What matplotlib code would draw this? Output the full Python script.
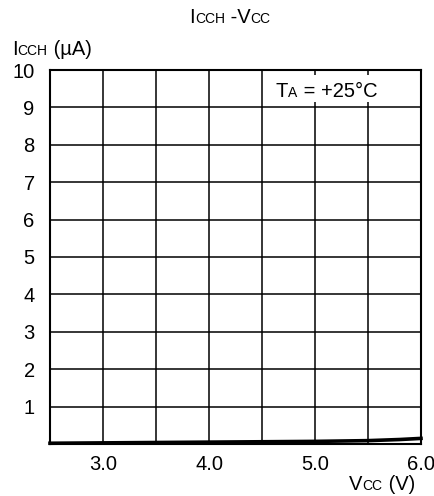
import matplotlib.pyplot as plt
from matplotlib.transforms import IdentityTransform

plt.rcParams["font.family"] = ["Liberation Sans", "DejaVu Sans"]

# supply current vs supply voltage, TA = +25C
vcc = [2.5, 3.0, 3.5, 4.0, 4.5, 5.0, 5.5, 5.8, 6.0]
icch = [0.02, 0.03, 0.04, 0.05, 0.06, 0.07, 0.09, 0.12, 0.15]

x_ticks = [3.0, 4.0, 5.0, 6.0]
x_grid = [2.5, 3.0, 3.5, 4.0, 4.5, 5.0, 5.5, 6.0]
y_ticks = [1, 2, 3, 4, 5, 6, 7, 8, 9, 10]

BIG = 14.5
SMALL = 10


def rich_text(fig, x, y, parts, ha="left"):
    """Draw text pieces of different sizes side by side on a common baseline.
    x, y are in figure pixels."""
    renderer = fig.canvas.get_renderer()
    pieces = []
    for s, size in parts:
        t = fig.text(0, 0, s, fontsize=size, transform=IdentityTransform(),
                     va="baseline", ha="left", zorder=5)
        w = t.get_window_extent(renderer).width
        pieces.append((t, w))
    total = sum(w for _, w in pieces)
    if ha == "center":
        x -= total / 2
    elif ha == "right":
        x -= total
    for t, w in pieces:
        t.set_position((x, y))
        x += w


def plot_icch():
    fig = plt.figure(figsize=(4.34, 4.96), dpi=100)
    H = 496
    ax = fig.add_axes([50 / 434, 1 - 444 / H, 371 / 434, 374 / H])
    ax.set_xlim(2.5, 6.0)
    ax.set_ylim(0, 10)

    for xv in x_grid:
        ax.axvline(xv, color="black", lw=1.1, zorder=1)
    for yv in y_ticks:
        ax.axhline(yv, color="black", lw=1.1, zorder=1)

    ax.plot(vcc, icch, color="black", lw=2.6, zorder=3, clip_on=False)

    for sp in ax.spines.values():
        sp.set_linewidth(1.5)
    ax.set_xticks(x_ticks)
    ax.set_xticklabels([f"{v:.1f}" for v in x_ticks])
    ax.set_yticks(y_ticks)
    ax.set_yticklabels([str(v) for v in y_ticks])
    ax.tick_params(length=0, labelsize=BIG)
    ax.tick_params(axis="x", pad=8)
    ax.tick_params(axis="y", pad=11)
    for lbl in ax.get_yticklabels():
        lbl.set_va("center_baseline")

    # white patch behind the temperature label
    ax.add_patch(plt.Rectangle((0.593, 0.914), 0.31, 0.073, transform=ax.transAxes,
                               facecolor="white", edgecolor="none", zorder=2))
    rich_text(fig, 276, H - 97, [("T", BIG), ("A", SMALL), (" = +25°C", BIG)])

    rich_text(fig, 230, H - 23, [("I", BIG), ("CCH", SMALL), (" -V", BIG), ("CC", SMALL)],
              ha="center")
    rich_text(fig, 12, H - 55, [("I", BIG), ("CCH", SMALL), (" (µA)", BIG)])
    rich_text(fig, 382, H - 490, [("V", BIG), ("CC", SMALL), (" (V)", BIG)], ha="center")

    return fig


fig = plot_icch()
fig.savefig("out.png", dpi=100)
